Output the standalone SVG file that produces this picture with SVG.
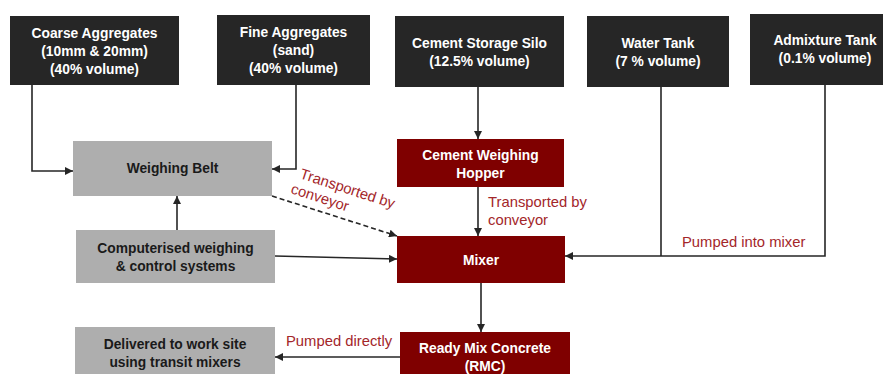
<svg xmlns="http://www.w3.org/2000/svg" width="883" height="374" viewBox="0 0 883 374">
<style>
.dark{fill:#262626}
.gray{fill:#aeaeae}
.red{fill:#7f0000}
.wt{font-family:"Liberation Sans",Arial,sans-serif;font-weight:bold;font-size:13.8px;fill:#ffffff;text-anchor:middle}
.bt{font-family:"Liberation Sans",Arial,sans-serif;font-weight:bold;font-size:13.8px;fill:#1a1a1a;text-anchor:middle}
.lbl{font-family:"Liberation Sans",Arial,sans-serif;font-size:14.8px;fill:#a3262a}
.ln{fill:none;stroke:#262626;stroke-width:1.6}
</style>
<defs>
<marker id="ah" markerUnits="userSpaceOnUse" markerWidth="9" markerHeight="8" refX="8" refY="4" orient="auto">
<path d="M0,0 L8,4 L0,8 z" fill="#262626"/>
</marker>
</defs>
<rect width="883" height="374" fill="#ffffff"/>
<g id="coarse"><rect class="dark" x="10" y="16" width="169" height="69"/>
<text class="wt" x="94.5" y="38">Coarse Aggregates</text>
<text class="wt" x="94.5" y="56">(10mm &amp; 20mm)</text>
<text class="wt" x="94.5" y="74">(40% volume)</text></g>
<g id="fine"><rect class="dark" x="217" y="15" width="153" height="70"/>
<text class="wt" x="293.5" y="37">Fine Aggregates</text>
<text class="wt" x="293.5" y="55">(sand)</text>
<text class="wt" x="293.5" y="73">(40% volume)</text></g>
<g id="silo"><rect class="dark" x="395" y="16" width="169" height="71"/>
<text class="wt" x="479.5" y="48">Cement Storage Silo</text>
<text class="wt" x="479.5" y="66">(12.5% volume)</text></g>
<g id="water"><rect class="dark" x="587" y="16" width="142" height="71"/>
<text class="wt" x="658" y="48">Water Tank</text>
<text class="wt" x="658" y="66">(7 % volume)</text></g>
<g id="admixture"><rect class="dark" x="750" y="14" width="140" height="71"/>
<text class="wt" x="825" y="45">Admixture Tank</text>
<text class="wt" x="825" y="63">(0.1% volume)</text></g>
<g id="weighing"><rect class="gray" x="73" y="141" width="199" height="55"/>
<text class="bt" x="172.5" y="173">Weighing Belt</text></g>
<g id="computer"><rect class="gray" x="76" y="230" width="199" height="53"/>
<text class="bt" x="175.5" y="253">Computerised weighing</text>
<text class="bt" x="175.5" y="271">&amp; control systems</text></g>
<g id="hopper"><rect class="red" x="397" y="139" width="167" height="48"/>
<text class="wt" x="480.5" y="160">Cement Weighing</text>
<text class="wt" x="480.5" y="178">Hopper</text></g>
<g id="mixer"><rect class="red" x="397" y="236" width="168" height="47"/>
<text class="wt" x="481" y="265">Mixer</text></g>
<g id="rmc"><rect class="red" x="400" y="332" width="170" height="50"/>
<text class="wt" x="485" y="353">Ready Mix Concrete</text>
<text class="wt" x="485" y="371">(RMC)</text></g>
<g id="delivered"><rect class="gray" x="75" y="327" width="200" height="55"/>
<text class="bt" x="175" y="349">Delivered to work site</text>
<text class="bt" x="175" y="367">using transit mixers</text></g>
<g id="connectors">
<path class="ln" d="M32 85 V171 H73" marker-end="url(#ah)"/>
<path class="ln" d="M296 85 V169 H272" marker-end="url(#ah)"/>
<path class="ln" d="M478 87 V139" marker-end="url(#ah)"/>
<path class="ln" d="M478 187 V236" marker-end="url(#ah)"/>
<path class="ln" d="M177 230 V196" marker-end="url(#ah)"/>
<path class="ln" d="M275 256 L397 259" marker-end="url(#ah)"/>
<path class="ln" d="M272 196 L397 236" stroke-dasharray="5,3" marker-end="url(#ah)"/>
<path class="ln" d="M661 87 V256"/>
<path class="ln" d="M825 85 V256 H565" marker-end="url(#ah)"/>
<path class="ln" d="M481 283 V332" marker-end="url(#ah)"/>
<path class="ln" d="M400 357 H275" marker-end="url(#ah)"/>
<g transform="translate(299,178) rotate(18)">
<text class="lbl" x="0" y="0">Transported by</text>
<text class="lbl" x="-4" y="17">conveyor</text></g>
<text class="lbl" x="488" y="207">Transported by</text>
<text class="lbl" x="488" y="225">conveyor</text>
<text class="lbl" x="682" y="247">Pumped into mixer</text>
<text class="lbl" x="286" y="346">Pumped directly</text>
</g>
</svg>
